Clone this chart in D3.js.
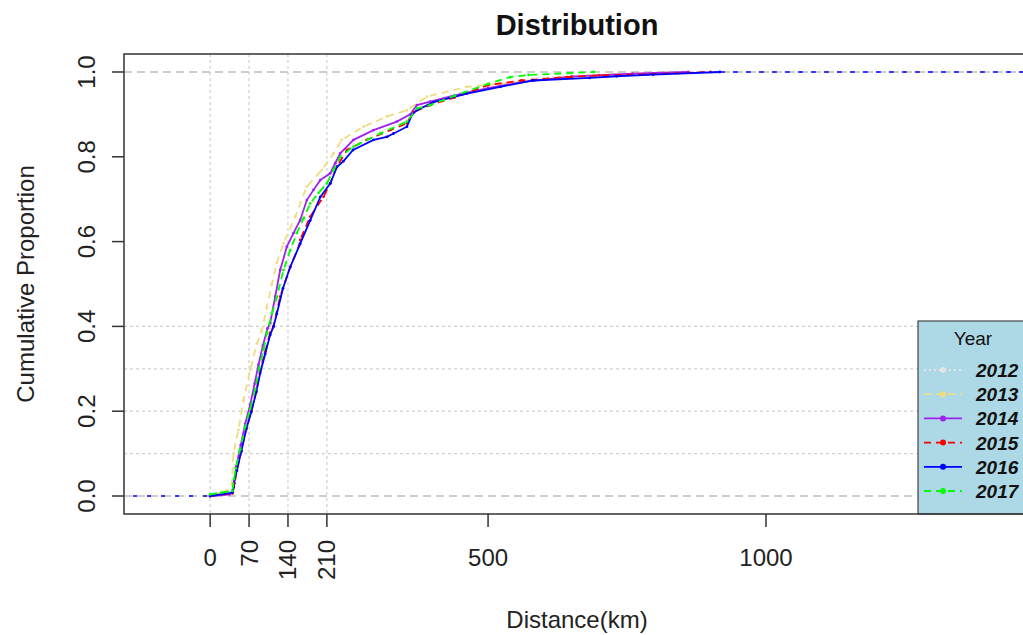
<!DOCTYPE html>
<html>
<head>
<meta charset="utf-8">
<script src="https://cdn.jsdelivr.net/npm/d3@7"></script>
<style>
  body { margin: 0; background: #ffffff; }
  svg { display: block; font-family: "Liberation Sans", Arial, sans-serif; }
</style>
</head>
<body>
<svg id="chart" width="1023" height="635"></svg>
<script>
// ---------------- data ----------------
const years = ["2012", "2013", "2014", "2015", "2016", "2017"];

// [distance km, cumulative proportion]
const ecdf2012 = [[0,0],[40,0.008],[44,0.04],[52,0.1],[62,0.16],[72,0.21],[84,0.27],[96,0.335],[108,0.395],[120,0.46],[138,0.55],[156,0.62],[180,0.68],[204,0.73],[228,0.785],[258,0.83],[306,0.86],[354,0.885],[372,0.915],[420,0.94],[500,0.968],[580,0.985],[650,0.992],[800,0.997],[880,1]];
const ecdf2013 = [[0,0],[15,0.005],[30,0.013],[39,0.026],[42,0.10],[51,0.156],[60,0.226],[72,0.297],[84,0.36],[93,0.39],[102,0.445],[111,0.50],[120,0.55],[132,0.596],[153,0.659],[174,0.73],[201,0.769],[222,0.808],[237,0.84],[276,0.871],[318,0.895],[354,0.91],[390,0.942],[462,0.965],[558,0.976],[650,0.99],[760,0.997],[850,1]];
const ecdf2014 = [[0,0],[35,0.004],[40,0.012],[43,0.03],[47,0.07],[55,0.12],[63,0.17],[72,0.215],[80,0.265],[87,0.31],[95,0.355],[103,0.395],[108,0.408],[117,0.47],[126,0.533],[138,0.588],[150,0.62],[162,0.651],[174,0.698],[186,0.722],[198,0.745],[216,0.761],[225,0.785],[234,0.808],[258,0.84],[294,0.863],[336,0.883],[360,0.9],[372,0.922],[396,0.93],[440,0.945],[500,0.962],[560,0.976],[650,0.989],[760,0.996],[860,1]];
const ecdf2015 = [[0,0],[40,0.006],[44,0.03],[48,0.06],[56,0.105],[65,0.16],[74,0.2],[83,0.248],[90,0.295],[99,0.34],[108,0.385],[114,0.40],[126,0.47],[144,0.54],[160,0.59],[162,0.604],[180,0.659],[204,0.706],[216,0.737],[228,0.777],[246,0.816],[282,0.84],[324,0.863],[354,0.879],[366,0.906],[396,0.922],[440,0.94],[500,0.969],[560,0.98],[641,0.988],[700,0.992],[797,0.995],[900,1]];
const ecdf2016 = [[0,0],[40,0.008],[42,0.02],[44,0.04],[48,0.06],[56,0.105],[65,0.158],[74,0.198],[83,0.245],[90,0.29],[99,0.335],[108,0.38],[114,0.40],[120,0.43],[131,0.49],[144,0.54],[162,0.595],[180,0.65],[198,0.705],[216,0.737],[228,0.776],[240,0.79],[257,0.816],[294,0.84],[318,0.847],[330,0.855],[354,0.871],[363,0.899],[372,0.91],[402,0.929],[462,0.949],[522,0.965],[581,0.98],[683,0.986],[731,0.99],[797,0.994],[917,1]];
const ecdf2017 = [[0,0.004],[20,0.008],[40,0.012],[43,0.04],[46,0.065],[54,0.11],[63,0.163],[72,0.205],[81,0.252],[88,0.3],[96,0.345],[102,0.384],[111,0.43],[120,0.47],[132,0.533],[144,0.58],[156,0.62],[168,0.655],[180,0.69],[195,0.715],[210,0.737],[222,0.769],[234,0.80],[258,0.824],[306,0.855],[354,0.883],[372,0.914],[396,0.922],[440,0.944],[500,0.972],[540,0.988],[573,0.993],[690,1]];
const seriesData = [ecdf2012, ecdf2013, ecdf2014, ecdf2015, ecdf2016, ecdf2017];

const xTicksHorizontal = [0, 500, 1000];
const xTicksVertical = [70, 140, 210];
const yTicks = [0, 0.2, 0.4, 0.6, 0.8, 1.0];
const vGrid = [0, 70, 140, 210];
const hGrid = [0.1, 0.2, 0.3, 0.4];
const refLines = [0, 1];

// ---------------- styles ----------------
const colors = ["#e5e5e5", "#eedd82", "#a020f0", "#ff0000", "#0000ff", "#00ff00"];
const dashArr = ["2,3", "7,5", null, "7,5", null, "7,5"];

// ---------------- layout ----------------
const svg = d3.select("#chart");
const box = { left: 124, right: 1030, top: 54, bottom: 514 };
const x = d3.scaleLinear().domain([-155, 1475]).range([box.left, box.right]);
const y = d3.scaleLinear().domain([-0.04245, 1.04245]).range([box.bottom, box.top]);

const clip = svg.append("defs").append("clipPath").attr("id", "plotclip")
  .append("rect").attr("x", box.left).attr("y", box.top)
  .attr("width", box.right - box.left).attr("height", box.bottom - box.top);

const plot = svg.append("g").attr("clip-path", "url(#plotclip)");

// grid
plot.selectAll(".vg").data(vGrid).enter().append("line")
  .attr("x1", d => x(d)).attr("x2", d => x(d))
  .attr("y1", box.top).attr("y2", box.bottom)
  .attr("stroke", "#cfcfcf").attr("stroke-width", 1.2).attr("stroke-dasharray", "3,3");
plot.selectAll(".hg").data(hGrid).enter().append("line")
  .attr("x1", box.left).attr("x2", box.right)
  .attr("y1", d => y(d)).attr("y2", d => y(d))
  .attr("stroke", "#cfcfcf").attr("stroke-width", 1.2).attr("stroke-dasharray", "3,3");

// reference dashed lines at 0 and 1
plot.selectAll(".ref").data(refLines).enter().append("line")
  .attr("x1", box.left).attr("x2", box.right)
  .attr("y1", d => y(d)).attr("y2", d => y(d))
  .attr("stroke", "#bdbdbd").attr("stroke-width", 1.5).attr("stroke-dasharray", "8,5");

// extensions of the 2016 step function to the plot edges
const ext = seriesData[4];
plot.append("line")
  .attr("x1", box.left + 9).attr("x2", x(ext[0][0]))
  .attr("y1", y(ext[0][1])).attr("y2", y(ext[0][1]))
  .attr("stroke", colors[4]).attr("stroke-width", 1.5).attr("stroke-dasharray", "4,10");
plot.append("line")
  .attr("x1", x(ext[ext.length - 1][0])).attr("x2", box.right)
  .attr("y1", y(1)).attr("y2", y(1))
  .attr("stroke", colors[4]).attr("stroke-width", 1.5).attr("stroke-dasharray", "5,8");

// curves
const line = d3.line().x(d => x(d[0])).y(d => y(d[1]));
seriesData.forEach((data, i) => {
  const g = plot.append("g");
  g.append("path").datum(data)
    .attr("d", line).attr("fill", "none")
    .attr("stroke", colors[i]).attr("stroke-width", 1.8)
    .attr("stroke-dasharray", dashArr[i]);
  g.selectAll("circle").data(data).enter().append("circle")
    .attr("cx", d => x(d[0])).attr("cy", d => y(d[1])).attr("r", 1.4)
    .attr("fill", colors[i]);
});

// legend
const lg = svg.append("g");
const lgX = 918, lgY = 321;
lg.append("rect").attr("x", lgX).attr("y", lgY).attr("width", 130).attr("height", box.bottom - lgY)
  .attr("fill", "#add8e6").attr("stroke", "#222").attr("stroke-width", 1);
// grid lines showing through legend at 0.4 level
lg.append("text").attr("x", 973).attr("y", 345).attr("text-anchor", "middle")
  .attr("font-size", 19).attr("fill", "#111").text("Year");
years.forEach((yr, i) => {
  const cy = 370 + i * 24.2;
  lg.append("line").attr("x1", 924).attr("x2", 962).attr("y1", cy).attr("y2", cy)
    .attr("stroke", colors[i]).attr("stroke-width", 1.8).attr("stroke-dasharray", dashArr[i]);
  lg.append("circle").attr("cx", 943).attr("cy", cy).attr("r", 3).attr("fill", colors[i]);
  lg.append("text").attr("x", 976).attr("y", cy + 7)
    .attr("font-size", 19).attr("font-weight", "bold").attr("font-style", "italic")
    .attr("fill", "#111").text(yr);
});

// plot box
svg.append("rect").attr("x", box.left).attr("y", box.top)
  .attr("width", box.right - box.left).attr("height", box.bottom - box.top)
  .attr("fill", "none").attr("stroke", "#333").attr("stroke-width", 1.5);

// y axis
const axY = svg.append("g");
axY.selectAll("line").data(yTicks).enter().append("line")
  .attr("x1", box.left - 12).attr("x2", box.left)
  .attr("y1", d => y(d)).attr("y2", d => y(d))
  .attr("stroke", "#333").attr("stroke-width", 1.5);
axY.selectAll("text").data(yTicks).enter().append("text")
  .attr("transform", d => `translate(95,${y(d)}) rotate(-90)`)
  .attr("text-anchor", "middle").attr("font-size", 24).attr("fill", "#222")
  .text(d => d3.format(".1f")(d));

// x axis
const allX = xTicksVertical.concat(xTicksHorizontal);
const axX = svg.append("g");
axX.selectAll("line").data(allX).enter().append("line")
  .attr("x1", d => x(d)).attr("x2", d => x(d))
  .attr("y1", box.bottom).attr("y2", box.bottom + 13)
  .attr("stroke", "#333").attr("stroke-width", 1.5);
axX.selectAll(".th").data(xTicksHorizontal).enter().append("text")
  .attr("x", d => x(d)).attr("y", 566).attr("text-anchor", "middle")
  .attr("font-size", 24).attr("fill", "#222").text(d => d);
axX.selectAll(".tv").data(xTicksVertical).enter().append("text")
  .attr("transform", d => `translate(${x(d) + 8.5},540) rotate(-90)`)
  .attr("text-anchor", "end").attr("font-size", 24).attr("fill", "#222").text(d => d);

// titles
svg.append("text").attr("x", 577).attr("y", 35).attr("text-anchor", "middle")
  .attr("font-size", 29).attr("font-weight", "bold").attr("fill", "#111").text("Distribution");
svg.append("text").attr("x", 577).attr("y", 628).attr("text-anchor", "middle")
  .attr("font-size", 24).attr("fill", "#222").text("Distance(km)");
svg.append("text").attr("transform", "translate(34,284) rotate(-90)")
  .attr("text-anchor", "middle").attr("font-size", 24).attr("fill", "#222")
  .text("Cumulative Proportion");
</script>
</body>
</html>
